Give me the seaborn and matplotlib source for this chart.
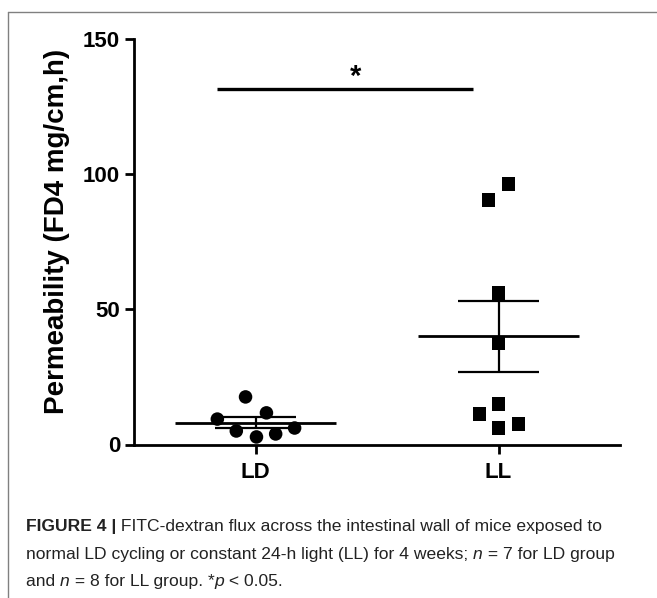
import numpy as np
import pandas as pd
import matplotlib
matplotlib.use("Agg")
import matplotlib.pyplot as plt
import seaborn as sns
from matplotlib.lines import Line2D

# ---------------- data ----------------
groups = ["LD", "LL"]
ld_values = [17.6, 11.7, 9.4, 5.0, 2.8, 3.9, 6.1]
ll_values = [96.4, 90.5, 56.0, 37.5, 15.0, 11.3, 6.1, 7.6]
# horizontal scatter offsets (category units)
ld_offsets = [-0.041, 0.045, -0.157, -0.079, 0.004, 0.083, 0.161]
ll_offsets = [0.041, -0.041, 0.0, 0.0, 0.0, -0.078, 0.0, 0.082]
y_ticks = [0, 50, 100, 150]
y_label = "Permeability (FD4 mg/cm,h)"
sig_label = "*"
sig_value = 131.4

W, H = 657, 598
sns.set_theme(style="white")
plt.rcParams["font.family"] = ["Liberation Sans", "DejaVu Sans"]

fig = plt.figure(figsize=(W / 100, H / 100), dpi=100)
ax = fig.add_axes([134 / W, 1 - 444.5 / H, (620 - 134) / W, (444.5 - 39) / H])

rows = []
for g, vals, offs in [("LD", ld_values, ld_offsets), ("LL", ll_values, ll_offsets)]:
    gi = groups.index(g)
    for v, o in zip(vals, offs):
        rows.append({"group": g, "x": gi + o, "value": v})
df = pd.DataFrame(rows)

sns.scatterplot(data=df, x="x", y="value", style="group", markers={"LD": "o", "LL": "s"},
                color="black", s=95, linewidth=0, legend=False, ax=ax, zorder=3)

# mean +/- SEM
for gi, g in enumerate(groups):
    v = df.loc[df.group == g, "value"].to_numpy()
    m = v.mean()
    se = v.std(ddof=1) / np.sqrt(len(v))
    ax.hlines(m, gi - 0.33, gi + 0.33, color="black", lw=2.0, zorder=4)
    ax.hlines([m - se, m + se], gi - 0.165, gi + 0.165, color="black", lw=1.6, zorder=4)
    ax.vlines(gi, m - se, m + se, color="black", lw=1.6, zorder=4)

# significance
ax.hlines(sig_value, -0.16, 0.897, color="black", lw=2.4, clip_on=False)
ax.text(0.41, sig_value + 4.5, sig_label, ha="center", va="center", fontsize=21,
        fontweight="bold", color="black")

ax.set_xlim(-0.5, 1.5)
ax.set_ylim(0, 150)
ax.set_xticks([0, 1])
ax.set_xticklabels(groups)
ax.set_yticks(y_ticks)
ax.set_xlabel("")
ax.set_ylabel(y_label, fontsize=20, fontweight="bold", color="black")
ax.yaxis.set_label_coords(-0.158, 0.5265)
ax.yaxis.label.set_verticalalignment("center")

for sp in ["top", "right"]:
    ax.spines[sp].set_visible(False)
for sp in ["left", "bottom"]:
    ax.spines[sp].set_linewidth(2.0)
    ax.spines[sp].set_color("black")
ax.tick_params(axis="both", direction="out", length=6.5, width=2.0, colors="black",
               labelsize=16, left=True, bottom=True)
ax.tick_params(axis="y", pad=3.5)
ax.tick_params(axis="x", pad=6)
for lab in ax.get_xticklabels() + ax.get_yticklabels():
    lab.set_fontweight("bold")

# frame lines of figure panel
fig.add_artist(Line2D([8 / W, 1], [1 - 12 / H, 1 - 12 / H], color="#808080", lw=1.0))
fig.add_artist(Line2D([8 / W, 8 / W], [0, 1 - 12 / H], color="#808080", lw=1.0))

# caption
renderer = fig.canvas.get_renderer()
cap_size = 12.6
cap_color = "#222222"

def measure(s, **kw):
    t1 = fig.text(0, 0, "|" + s + "|", fontsize=cap_size, **kw)
    t2 = fig.text(0, 0, "||", fontsize=cap_size, **kw)
    w = t1.get_window_extent(renderer).width - t2.get_window_extent(renderer).width
    t1.remove(); t2.remove()
    return w

def draw_runs(x0_px, y_px, runs):
    x = x0_px
    for s, kw in runs:
        fig.text(x / W, 1 - y_px / H, s, fontsize=cap_size, color=cap_color,
                 va="baseline", ha="left", **kw)
        x += measure(s, **kw)

n = {}
b = {"fontweight": "bold"}
it = {"fontstyle": "italic"}
draw_runs(26, 531, [("FIGURE 4 |", b),
                    (" FITC-dextran flux across the intestinal wall of mice exposed to", n)])
draw_runs(26, 559, [("normal LD cycling or constant 24-h light (LL) for 4 weeks; ", n),
                    ("n", it), (" = 7 for LD group", n)])
draw_runs(26, 586, [("and ", n), ("n", it), (" = 8 for LL group. *", n), ("p", it),
                    (" < 0.05.", n)])

fig.savefig("out.png", dpi=100)
